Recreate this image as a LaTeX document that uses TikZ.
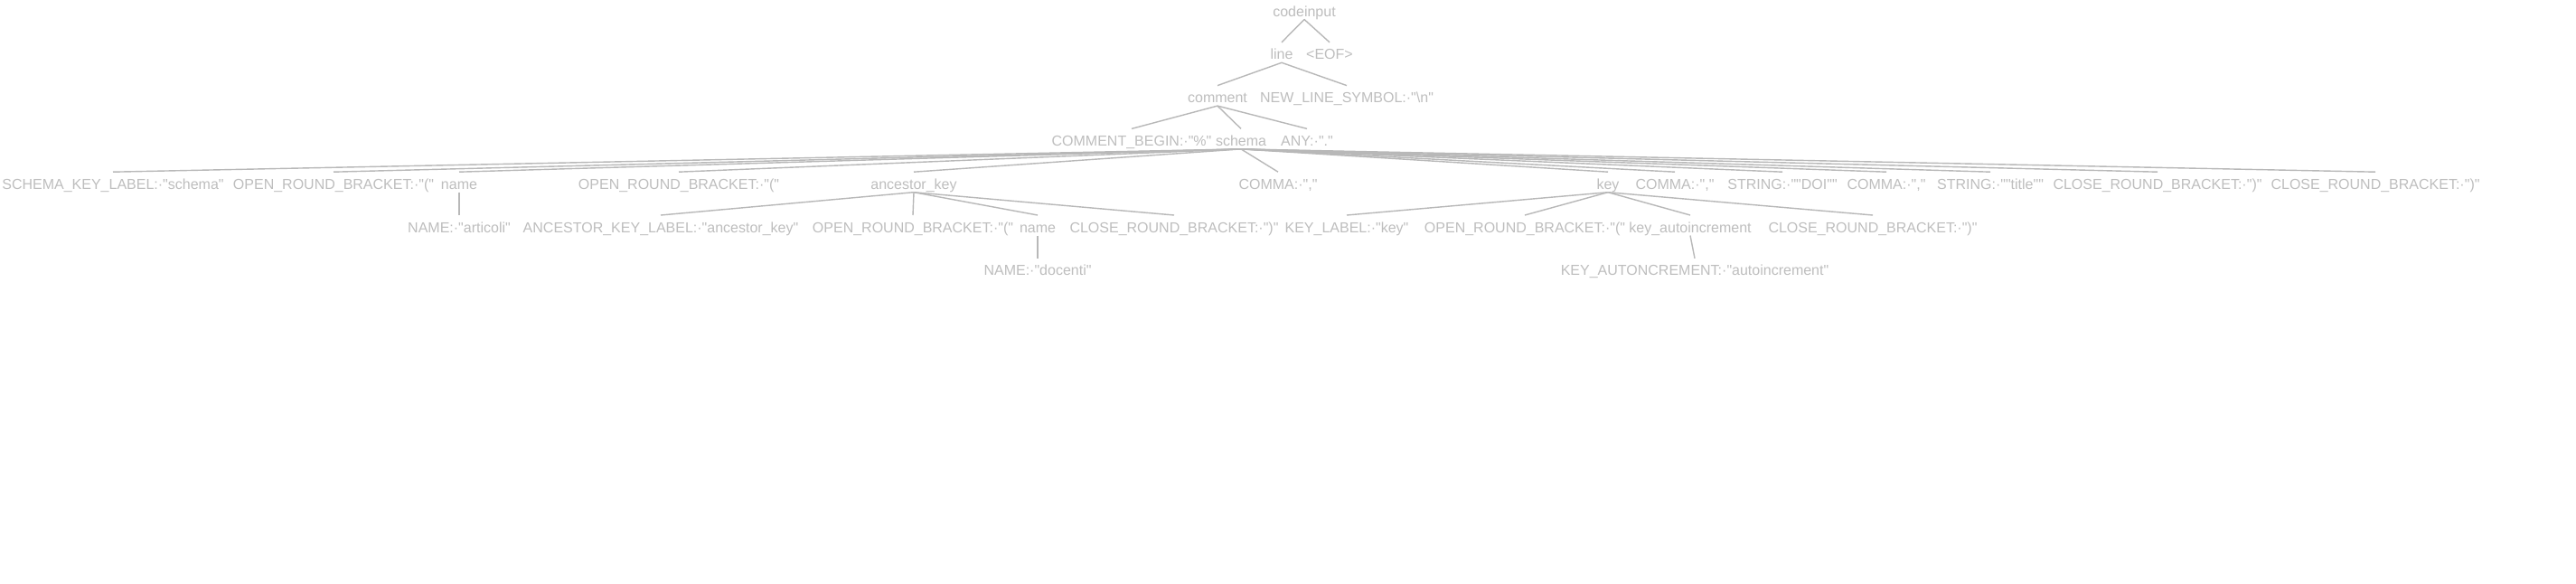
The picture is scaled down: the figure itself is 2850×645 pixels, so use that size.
\documentclass[tikz,border=0pt]{standalone}
\usepackage{fontspec}
\newfontfamily\tf{Liberation Sans}
\definecolor{txt}{RGB}{190,190,190}
\definecolor{edgec}{RGB}{184,184,184}
\begin{document}
\begin{tikzpicture}[x=1pt,y=-1pt,
  tn/.style={anchor=base,inner sep=0pt,outer sep=0pt,text height=19pt,text depth=3.5pt,font=\tf\fontsize{16}{19}\selectfont,text=txt},
  ed/.style={draw=edgec,line width=1.4pt}]
\path[fill=white,use as bounding box] (0,0) rectangle (2850,645);
% level 0-3
\node[tn] (ci) at (1443,18) {codeinput};
\node[tn] (ln) at (1418,65.8) {line};
\node[tn] (eof) at (1471,65.8) {<EOF>};
\node[tn] (cm) at (1347,113.6) {comment};
\node[tn] (nls) at (1490,113.6) {NEW\_LINE\_SYMBOL:·"\textbackslash n"};
\node[tn] (cb) at (1252,161.4) {COMMENT\_BEGIN:·"\%"};
\node[tn] (sc) at (1373,161.4) {schema};
\node[tn] (any) at (1446,161.4) {ANY:·"."};
% level 4
\node[tn] (skl) at (125,209.2) {SCHEMA\_KEY\_LABEL:·"schema"};
\node[tn] (ob1) at (369,209.2) {OPEN\_ROUND\_BRACKET:·"("};
\node[tn] (nm1) at (508,209.2) {name};
\node[tn] (ob2) at (751,209.2) {OPEN\_ROUND\_BRACKET:·"("};
\node[tn] (ak) at (1011,209.2) {ancestor\_key};
\node[tn] (c1) at (1414,209.2) {COMMA:·","};
\node[tn] (key) at (1779,209.2) {key};
\node[tn] (c2) at (1853,209.2) {COMMA:·","};
\node[tn] (s1) at (1972,209.2) {STRING:·""DOI""};
\node[tn] (c3) at (2087,209.2) {COMMA:·","};
\node[tn] (s2) at (2202,209.2) {STRING:·""title""};
\node[tn] (cr1) at (2387,209.2) {CLOSE\_ROUND\_BRACKET:·")"};
\node[tn] (cr2) at (2628,209.2) {CLOSE\_ROUND\_BRACKET:·")"};
% level 5
\node[tn] (na) at (508,257) {NAME:·"articoli"};
\node[tn] (akl) at (731,257) {ANCESTOR\_KEY\_LABEL:·"ancestor\_key"};
\node[tn] (ob3) at (1010,257) {OPEN\_ROUND\_BRACKET:·"("};
\node[tn] (nm2) at (1148,257) {name};
\node[tn] (cr3) at (1299,257) {CLOSE\_ROUND\_BRACKET:·")"};
\node[tn] (kl) at (1490,257) {KEY\_LABEL:·"key"};
\node[tn] (ob4) at (1687,257) {OPEN\_ROUND\_BRACKET:·"("};
\node[tn] (ka) at (1870,257) {key\_autoincrement};
\node[tn] (cr4) at (2072,257) {CLOSE\_ROUND\_BRACKET:·")"};
% level 6
\node[tn] (nd) at (1148,304.8) {NAME:·"docenti"};
\node[tn] (kai) at (1875,304.8) {KEY\_AUTONCREMENT:·"autoincrement"};
% edges
\draw[ed] (ci.south) -- (ln.north);
\draw[ed] (ci.south) -- (eof.north);
\draw[ed] (ln.south) -- (cm.north);
\draw[ed] (ln.south) -- (nls.north);
\draw[ed] (cm.south) -- (cb.north);
\draw[ed] (cm.south) -- (sc.north);
\draw[ed] (cm.south) -- (any.north);
\draw[ed] (sc.south) -- (skl.north);
\draw[ed] (sc.south) -- (ob1.north);
\draw[ed] (sc.south) -- (nm1.north);
\draw[ed] (sc.south) -- (ob2.north);
\draw[ed] (sc.south) -- (ak.north);
\draw[ed] (sc.south) -- (c1.north);
\draw[ed] (sc.south) -- (key.north);
\draw[ed] (sc.south) -- (c2.north);
\draw[ed] (sc.south) -- (s1.north);
\draw[ed] (sc.south) -- (c3.north);
\draw[ed] (sc.south) -- (s2.north);
\draw[ed] (sc.south) -- (cr1.north);
\draw[ed] (sc.south) -- (cr2.north);
\draw[ed] (nm1.south) -- (na.north);
\draw[ed] (ak.south) -- (akl.north);
\draw[ed] (ak.south) -- (ob3.north);
\draw[ed] (ak.south) -- (nm2.north);
\draw[ed] (ak.south) -- (cr3.north);
\draw[ed] (nm2.south) -- (nd.north);
\draw[ed] (key.south) -- (kl.north);
\draw[ed] (key.south) -- (ob4.north);
\draw[ed] (key.south) -- (ka.north);
\draw[ed] (key.south) -- (cr4.north);
\draw[ed] (ka.south) -- (kai.north);
\end{tikzpicture}
\end{document}
